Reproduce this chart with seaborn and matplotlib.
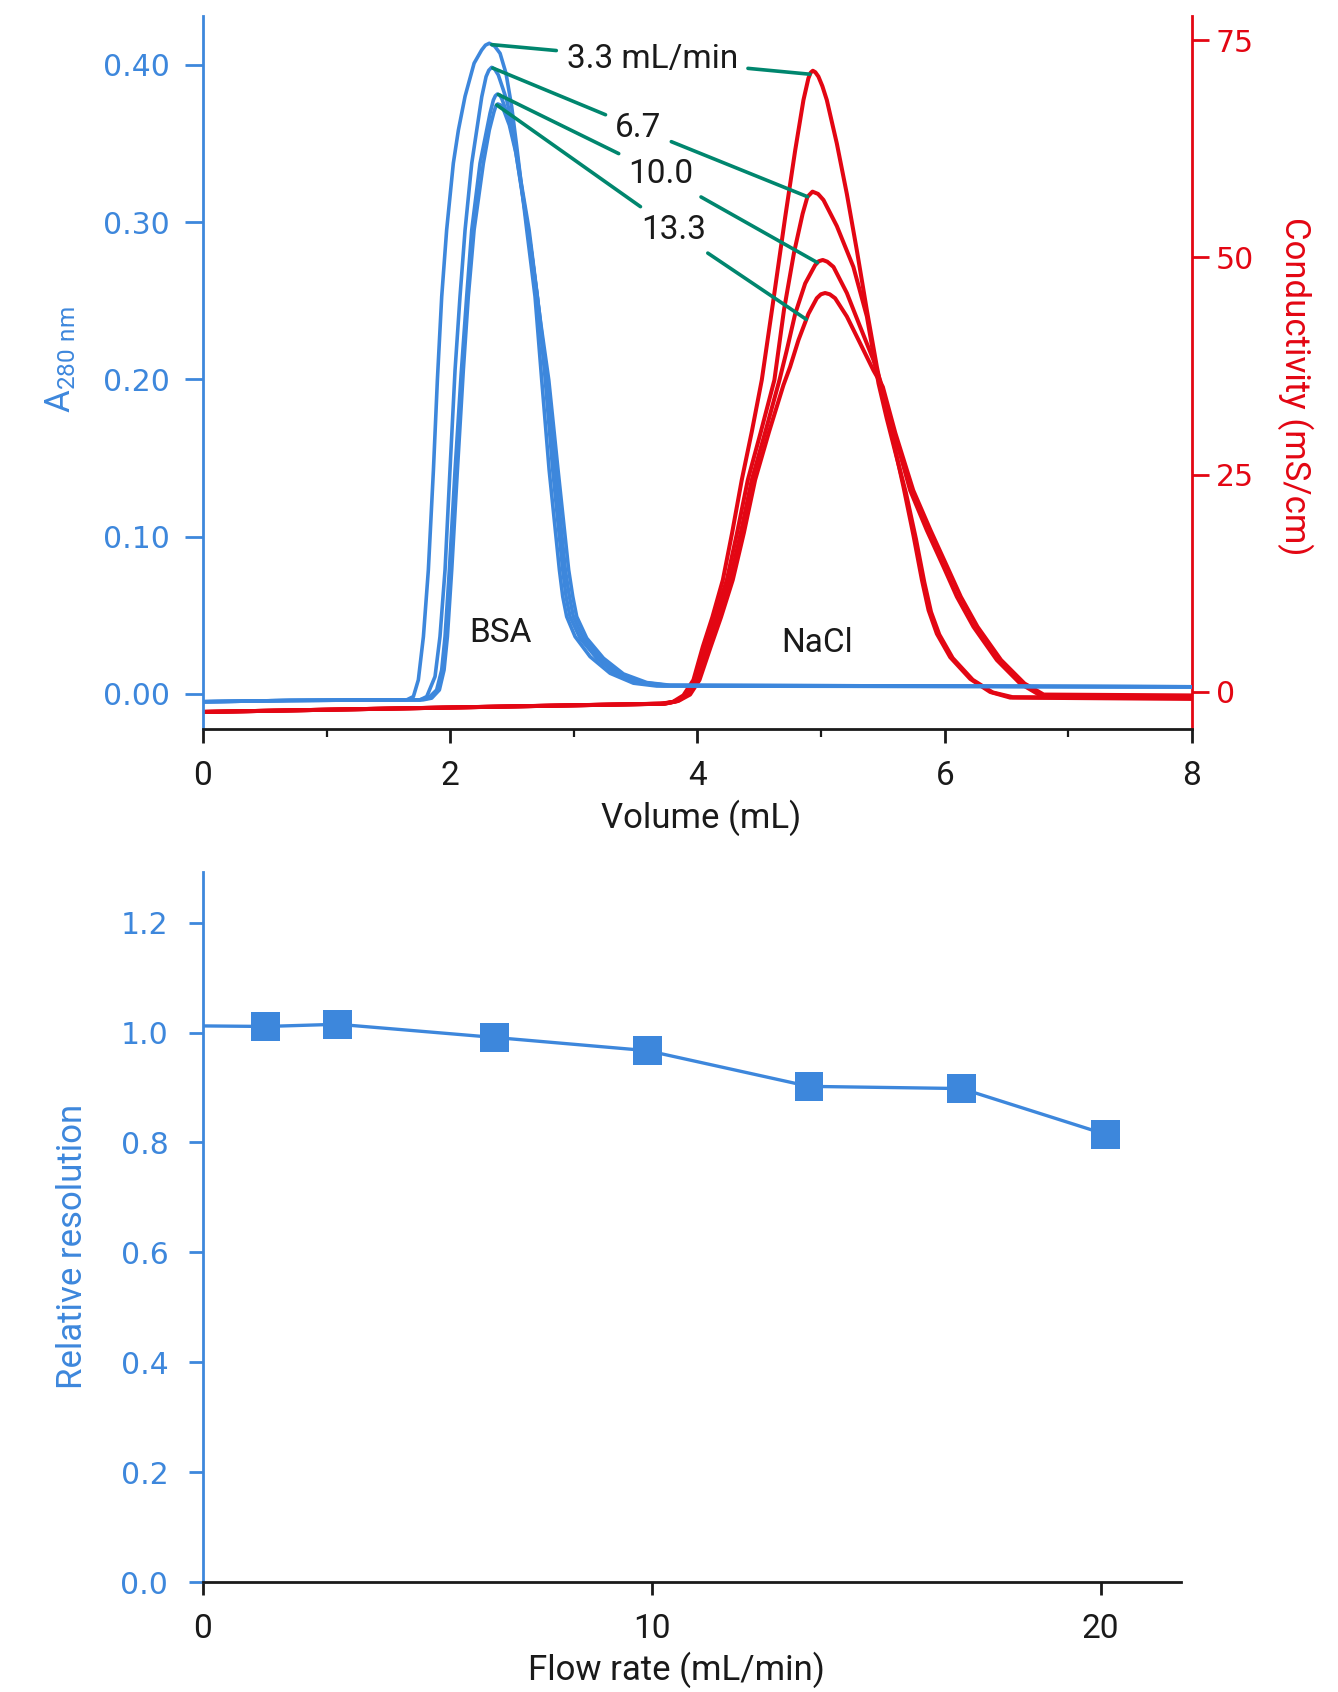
import numpy as np
import pandas as pd
import seaborn as sns
import matplotlib.pyplot as plt

# colours
BLUE = "#3d87dc"
RED = "#e30613"
GREEN = "#00866e"
INK = "#1a1a1a"

# --- chromatogram: A280 (BSA) traces, one per flow rate ---
flow_labels = ["3.3 mL/min", "6.7", "10.0", "13.3"]

bsa_x_33 = [0, 0.7, 1.5, 1.648, 1.702, 1.742, 1.783, 1.823, 1.864, 1.896, 1.931, 1.971, 2.025, 2.066,
            2.120, 2.193, 2.254, 2.285, 2.316, 2.360, 2.403, 2.451, 2.497, 2.538, 2.619, 2.686, 2.740,
            2.800, 2.883, 2.910, 2.942, 3.010, 3.131, 3.293, 3.482, 3.670, 8.0]
bsa_y_33 = [-0.0050, -0.0042, -0.0038, -0.0038, -0.0017, 0.0089, 0.0364, 0.0788, 0.1424, 0.1996, 0.2526,
            0.2950, 0.3374, 0.3585, 0.3800, 0.4010, 0.4094, 0.4125, 0.4137, 0.4118, 0.4073, 0.3946, 0.3734,
            0.3479, 0.2950, 0.2526, 0.1996, 0.1424, 0.0788, 0.0619, 0.0491, 0.0364, 0.0237, 0.0131, 0.0068,
            0.0050, 0.0045]

bsa_x_67 = [0, 0.7, 1.5, 1.756, 1.810, 1.877, 1.917, 1.958, 1.998, 2.039, 2.079, 2.120, 2.174, 2.255,
            2.290, 2.312, 2.335, 2.360, 2.389, 2.457, 2.511, 2.570, 2.638, 2.705, 2.765, 2.829, 2.910,
            2.937, 2.969, 3.050, 3.185, 3.347, 3.536, 3.724, 8.0]
bsa_y_67 = [-0.0050, -0.0042, -0.0038, -0.0038, -0.0017, 0.0110, 0.0364, 0.0788, 0.1424, 0.2060, 0.2526,
            0.2950, 0.3374, 0.3797, 0.3925, 0.3965, 0.3984, 0.3972, 0.3935, 0.3776, 0.3586, 0.3268, 0.2950,
            0.2526, 0.2030, 0.1424, 0.0788, 0.0619, 0.0491, 0.0354, 0.0227, 0.0121, 0.0068, 0.0051, 0.0045]

bsa_x_100 = [0, 0.7, 1.5, 1.750, 1.823, 1.890, 1.931, 1.958, 1.993, 2.039, 2.088, 2.133, 2.174, 2.241,
             2.322, 2.349, 2.365, 2.381, 2.400, 2.416, 2.470, 2.524, 2.586, 2.651, 2.721, 2.783, 2.850,
             2.931, 2.964, 2.996, 3.077, 3.212, 3.374, 3.563, 3.751, 8.0]
bsa_y_100 = [-0.0050, -0.0042, -0.0038, -0.0038, -0.0027, 0.0025, 0.0152, 0.0364, 0.0788, 0.1424, 0.2030,
             0.2526, 0.2950, 0.3374, 0.3692, 0.3776, 0.3803, 0.3814, 0.3808, 0.3787, 0.3670, 0.3479, 0.3161,
             0.2844, 0.2420, 0.1996, 0.1424, 0.0788, 0.0619, 0.0491, 0.0354, 0.0227, 0.0127, 0.0072, 0.0055,
             0.0045]

bsa_x_133 = [0, 0.7, 1.5, 1.780, 1.850, 1.912, 1.950, 1.977, 2.012, 2.058, 2.106, 2.146, 2.193, 2.268,
             2.316, 2.354, 2.370, 2.384, 2.405, 2.424, 2.478, 2.532, 2.597, 2.662, 2.732, 2.797, 2.872,
             2.958, 2.991, 3.023, 3.104, 3.239, 3.401, 3.590, 3.778, 8.0]
bsa_y_133 = [-0.0050, -0.0042, -0.0038, -0.0038, -0.0027, 0.0025, 0.0152, 0.0364, 0.0788, 0.1424, 0.2060,
             0.2526, 0.2950, 0.3374, 0.3585, 0.3702, 0.3740, 0.3751, 0.3745, 0.3730, 0.3617, 0.3437, 0.3120,
             0.2780, 0.2357, 0.1996, 0.1424, 0.0788, 0.0619, 0.0491, 0.0354, 0.0227, 0.0127, 0.0072, 0.0055,
             0.0045]

# --- chromatogram: conductivity (NaCl) traces ---
nacl_x_33 = [0, 3.70, 3.80, 3.886, 3.967, 4.043, 4.120, 4.205, 4.280, 4.358, 4.440, 4.520, 4.614, 4.709,
             4.790, 4.857, 4.897, 4.915, 4.933, 4.953, 4.978, 5.010, 5.046, 5.127, 5.208, 5.289, 5.370,
             5.451, 5.515, 5.585, 5.666, 5.747, 5.815, 5.869, 5.936, 6.044, 6.206, 6.367, 6.529, 8.0]
nacl_y_33 = [-2.3, -1.35, -1.15, -0.39, 1.38, 5.21, 8.6, 12.88, 18.3, 24.39, 30.0, 35.89, 45.1, 54.6,
             62.3, 68.1, 70.6, 71.25, 71.47, 71.3, 70.8, 69.7, 68.1, 63.1, 57.3, 50.8, 43.9,
             37.4, 33.0, 28.8, 23.6, 18.0, 12.9, 9.4, 6.7, 4.0, 1.5, 0.0, -0.65, -0.8]

nacl_x_67 = [0, 3.72, 3.82, 3.905, 3.983, 4.064, 4.140, 4.237, 4.320, 4.407, 4.510, 4.622, 4.700, 4.780,
             4.850, 4.889, 4.930, 4.975, 5.019, 5.127, 5.261, 5.370, 5.464, 5.530, 5.600, 5.686, 5.767,
             5.835, 5.889, 5.956, 6.064, 6.226, 6.387, 6.549, 8.0]
nacl_y_67 = [-2.3, -1.35, -1.10, -0.35, 1.38, 5.21, 8.6, 12.88, 18.3, 24.39, 29.8, 35.89, 44.0, 50.5,
             55.0, 56.96, 57.56, 57.3, 56.6, 53.6, 48.9, 43.2, 35.5, 31.5, 27.6, 22.9, 17.6,
             12.6, 9.2, 6.6, 3.9, 1.4, -0.05, -0.6, -0.7]

nacl_x_100 = [0, 3.73, 3.84, 3.92, 3.999, 4.086, 4.165, 4.264, 4.350, 4.439, 4.550, 4.663, 4.722, 4.790,
              4.871, 4.951, 4.980, 5.013, 5.050, 5.100, 5.208, 5.316, 5.423, 5.485, 5.585, 5.720, 5.855,
              5.990, 6.098, 6.232, 6.421, 6.610, 6.772, 8.0]
nacl_y_100 = [-2.3, -1.35, -1.05, -0.30, 1.38, 5.21, 8.6, 12.88, 18.3, 24.39, 30.0, 35.89, 39.3, 43.5,
              47.0, 49.1, 49.55, 49.7, 49.5, 48.9, 45.9, 42.0, 38.2, 35.5, 30.1, 23.2, 18.6,
              14.4, 10.95, 7.5, 3.68, 0.97, -0.39, -0.5]

nacl_x_133 = [0, 3.74, 3.85, 3.94, 4.016, 4.107, 4.190, 4.285, 4.375, 4.466, 4.580, 4.695, 4.749, 4.817,
              4.897, 4.965, 4.998, 5.032, 5.070, 5.113, 5.208, 5.316, 5.423, 5.499, 5.600, 5.745, 5.885,
              6.020, 6.130, 6.265, 6.455, 6.645, 6.800, 8.0]
nacl_y_133 = [-2.3, -1.35, -1.00, -0.30, 1.38, 5.21, 8.6, 12.88, 18.3, 24.39, 30.0, 35.3, 37.4, 40.5,
              43.5, 45.3, 45.75, 45.9, 45.75, 45.3, 43.2, 40.1, 37.0, 35.1, 29.8, 23.2, 18.6,
              14.4, 10.95, 7.5, 3.68, 0.97, -0.3, -0.4]

# where the green leader lines touch each trace (volume, mL)
leader_blue_x = [2.336, 2.344, 2.389, 2.376]
leader_red_x = [4.91, 4.89, 4.97, 4.88]
label_pos = [(3.633, 0.4035), (3.522, 0.3596), (3.703, 0.3304), (3.805, 0.295)]

# --- relative resolution vs flow rate ---
flow_rate = [1.4, 3.0, 6.5, 9.9, 13.5, 16.9, 20.1]
rel_res = [1.011, 1.015, 0.991, 0.967, 0.902, 0.898, 0.815]
res_line_flow = [0.0] + flow_rate
res_line_val = [1.012] + rel_res

bsa_x = [bsa_x_33, bsa_x_67, bsa_x_100, bsa_x_133]
bsa_y = [bsa_y_33, bsa_y_67, bsa_y_100, bsa_y_133]
nacl_x = [nacl_x_33, nacl_x_67, nacl_x_100, nacl_x_133]
nacl_y = [nacl_y_33, nacl_y_67, nacl_y_100, nacl_y_133]

bsa_df = pd.concat([pd.DataFrame({"volume": x, "a280": y, "flow": lab})
                    for x, y, lab in zip(bsa_x, bsa_y, flow_labels)])
nacl_df = pd.concat([pd.DataFrame({"volume": x, "cond": y, "flow": lab})
                     for x, y, lab in zip(nacl_x, nacl_y, flow_labels)])
res_df = pd.DataFrame({"flow_rate": flow_rate, "rel_res": rel_res})
res_line_df = pd.DataFrame({"flow_rate": res_line_flow, "rel_res": res_line_val})

sns.set_theme(style="ticks")
plt.rcParams["font.family"] = ["Roboto", "DejaVu Sans"]
plt.rcParams["mathtext.default"] = "regular"

fig = plt.figure(figsize=(13.38, 16.92), dpi=100)

# ---------------- top panel ----------------
ax1 = fig.add_axes([0.1517, 0.5689, 0.7392, 0.4216])
ax2 = ax1.twinx()
ax1.set_zorder(ax2.get_zorder() + 1)
ax1.patch.set_visible(False)

sns.lineplot(data=nacl_df, x="volume", y="cond", units="flow", estimator=None, sort=False,
             color=RED, lw=2.9, ax=ax2, legend=False, solid_joinstyle="round")
sns.lineplot(data=bsa_df, x="volume", y="a280", units="flow", estimator=None, sort=False,
             color=BLUE, lw=2.6, ax=ax1, legend=False, solid_joinstyle="round")

ax1.set_xlim(0, 8)
ax1.set_ylim(-0.0226, 0.431)
ax2.set_ylim(-4.31, 77.76)

ax1.set_xticks([0, 2, 4, 6, 8])
ax1.set_xticks([1, 3, 5, 7], minor=True)
ax1.set_yticks([0.0, 0.1, 0.2, 0.3, 0.4])
ax1.set_yticklabels(["0.00", "0.10", "0.20", "0.30", "0.40"])
ax2.set_yticks([0, 25, 50, 75])

for s in ["top", "right"]:
    ax1.spines[s].set_visible(False)
for s in ["top", "left", "bottom"]:
    ax2.spines[s].set_visible(False)
ax1.spines["left"].set_color(BLUE)
ax1.spines["left"].set_linewidth(2.0)
ax1.spines["bottom"].set_color(INK)
ax1.spines["bottom"].set_linewidth(2.0)
ax2.spines["right"].set_color(RED)
ax2.spines["right"].set_linewidth(2.0)

ax1.tick_params(axis="y", colors=BLUE, direction="out", length=13, width=2.0, pad=11,
                labelsize=21.5)
ax1.tick_params(axis="x", which="major", colors=INK, direction="out", length=10, width=2.0,
                pad=12, labelsize=24)
ax1.tick_params(axis="x", which="minor", colors=INK, direction="out", length=5.5, width=1.6)
ax2.tick_params(axis="y", colors=RED, direction="out", length=12, width=2.0, pad=5,
                labelsize=21.5)
for lbl in ax1.get_yticklabels() + ax2.get_yticklabels():
    lbl.set_fontfamily("DejaVu Sans")

ax1.set_xlabel("Volume (mL)", fontsize=25, color=INK)
ax1.xaxis.set_label_coords(0.5036, -0.124)
ax1.xaxis.label.set_verticalalignment("center")
ax1.set_ylabel(r"A$_{\mathregular{280\ nm}}$", fontsize=25, color=BLUE)
ax1.yaxis.set_label_coords(-0.1436, 0.519)
ax1.yaxis.label.set_verticalalignment("center")
ax2.set_ylabel("Conductivity (mS/cm)", fontsize=25, color=RED, rotation=270)
ax2.yaxis.set_label_coords(1.104, 0.481)
ax2.yaxis.label.set_verticalalignment("center")

# peak labels with green leader lines
for i, lab in enumerate(flow_labels):
    bx = leader_blue_x[i]
    by = np.interp(bx, bsa_x[i], bsa_y[i])
    rx = leader_red_x[i]
    ry = np.interp(rx, nacl_x[i], nacl_y[i])
    tx, ty = label_pos[i]
    ax1.annotate(lab, xy=(bx, by), xytext=(tx, ty), textcoords="data", fontsize=24, color=INK,
                 ha="center", va="center",
                 arrowprops=dict(arrowstyle="-", color=GREEN, lw=2.6, shrinkA=5, shrinkB=0))
    ax1.annotate(lab, xy=(rx, ry), xycoords=ax2.transData, xytext=(tx, ty), textcoords=ax1.transData,
                 fontsize=24, color="none", ha="center", va="center",
                 arrowprops=dict(arrowstyle="-", color=GREEN, lw=2.6, shrinkA=5, shrinkB=0))

ax1.text(2.409, 0.0385, "BSA", fontsize=24, color=INK, ha="center", va="center")
ax1.text(4.966, 0.0324, "NaCl", fontsize=24, color=INK, ha="center", va="center")

# ---------------- bottom panel ----------------
ax3 = fig.add_axes([0.1517, 0.065, 0.7313, 0.4196])
sns.lineplot(data=res_line_df, x="flow_rate", y="rel_res", color=BLUE, lw=2.4, ax=ax3,
             estimator=None, sort=False)
sns.scatterplot(data=res_df, x="flow_rate", y="rel_res", marker="s", s=430, color=BLUE,
                edgecolor="none", ax=ax3, zorder=3)

ax3.set_xlim(0, 21.8)
ax3.set_ylim(0, 1.292)
ax3.set_xticks([0, 10, 20])
ax3.set_yticks([0.0, 0.2, 0.4, 0.6, 0.8, 1.0, 1.2])
ax3.set_yticklabels(["0.0", "0.2", "0.4", "0.6", "0.8", "1.0", "1.2"])
for s in ["top", "right"]:
    ax3.spines[s].set_visible(False)
ax3.spines["left"].set_color(BLUE)
ax3.spines["left"].set_linewidth(2.0)
ax3.spines["bottom"].set_color(INK)
ax3.spines["bottom"].set_linewidth(2.0)
ax3.tick_params(axis="y", colors=BLUE, direction="out", length=10, width=2.0, pad=15,
                labelsize=21.5)
ax3.tick_params(axis="x", colors=INK, direction="out", length=9, width=2.0, pad=13, labelsize=24)
for lbl in ax3.get_yticklabels():
    lbl.set_fontfamily("DejaVu Sans")

ax3.set_xlabel("Flow rate (mL/min)", fontsize=25, color=INK)
ax3.xaxis.set_label_coords(0.484, -0.124)
ax3.xaxis.label.set_verticalalignment("center")
ax3.set_ylabel("Relative resolution", fontsize=25, color=BLUE)
ax3.yaxis.set_label_coords(-0.1329, 0.473)
ax3.yaxis.label.set_verticalalignment("center")

fig.savefig("out.png", dpi=100)
